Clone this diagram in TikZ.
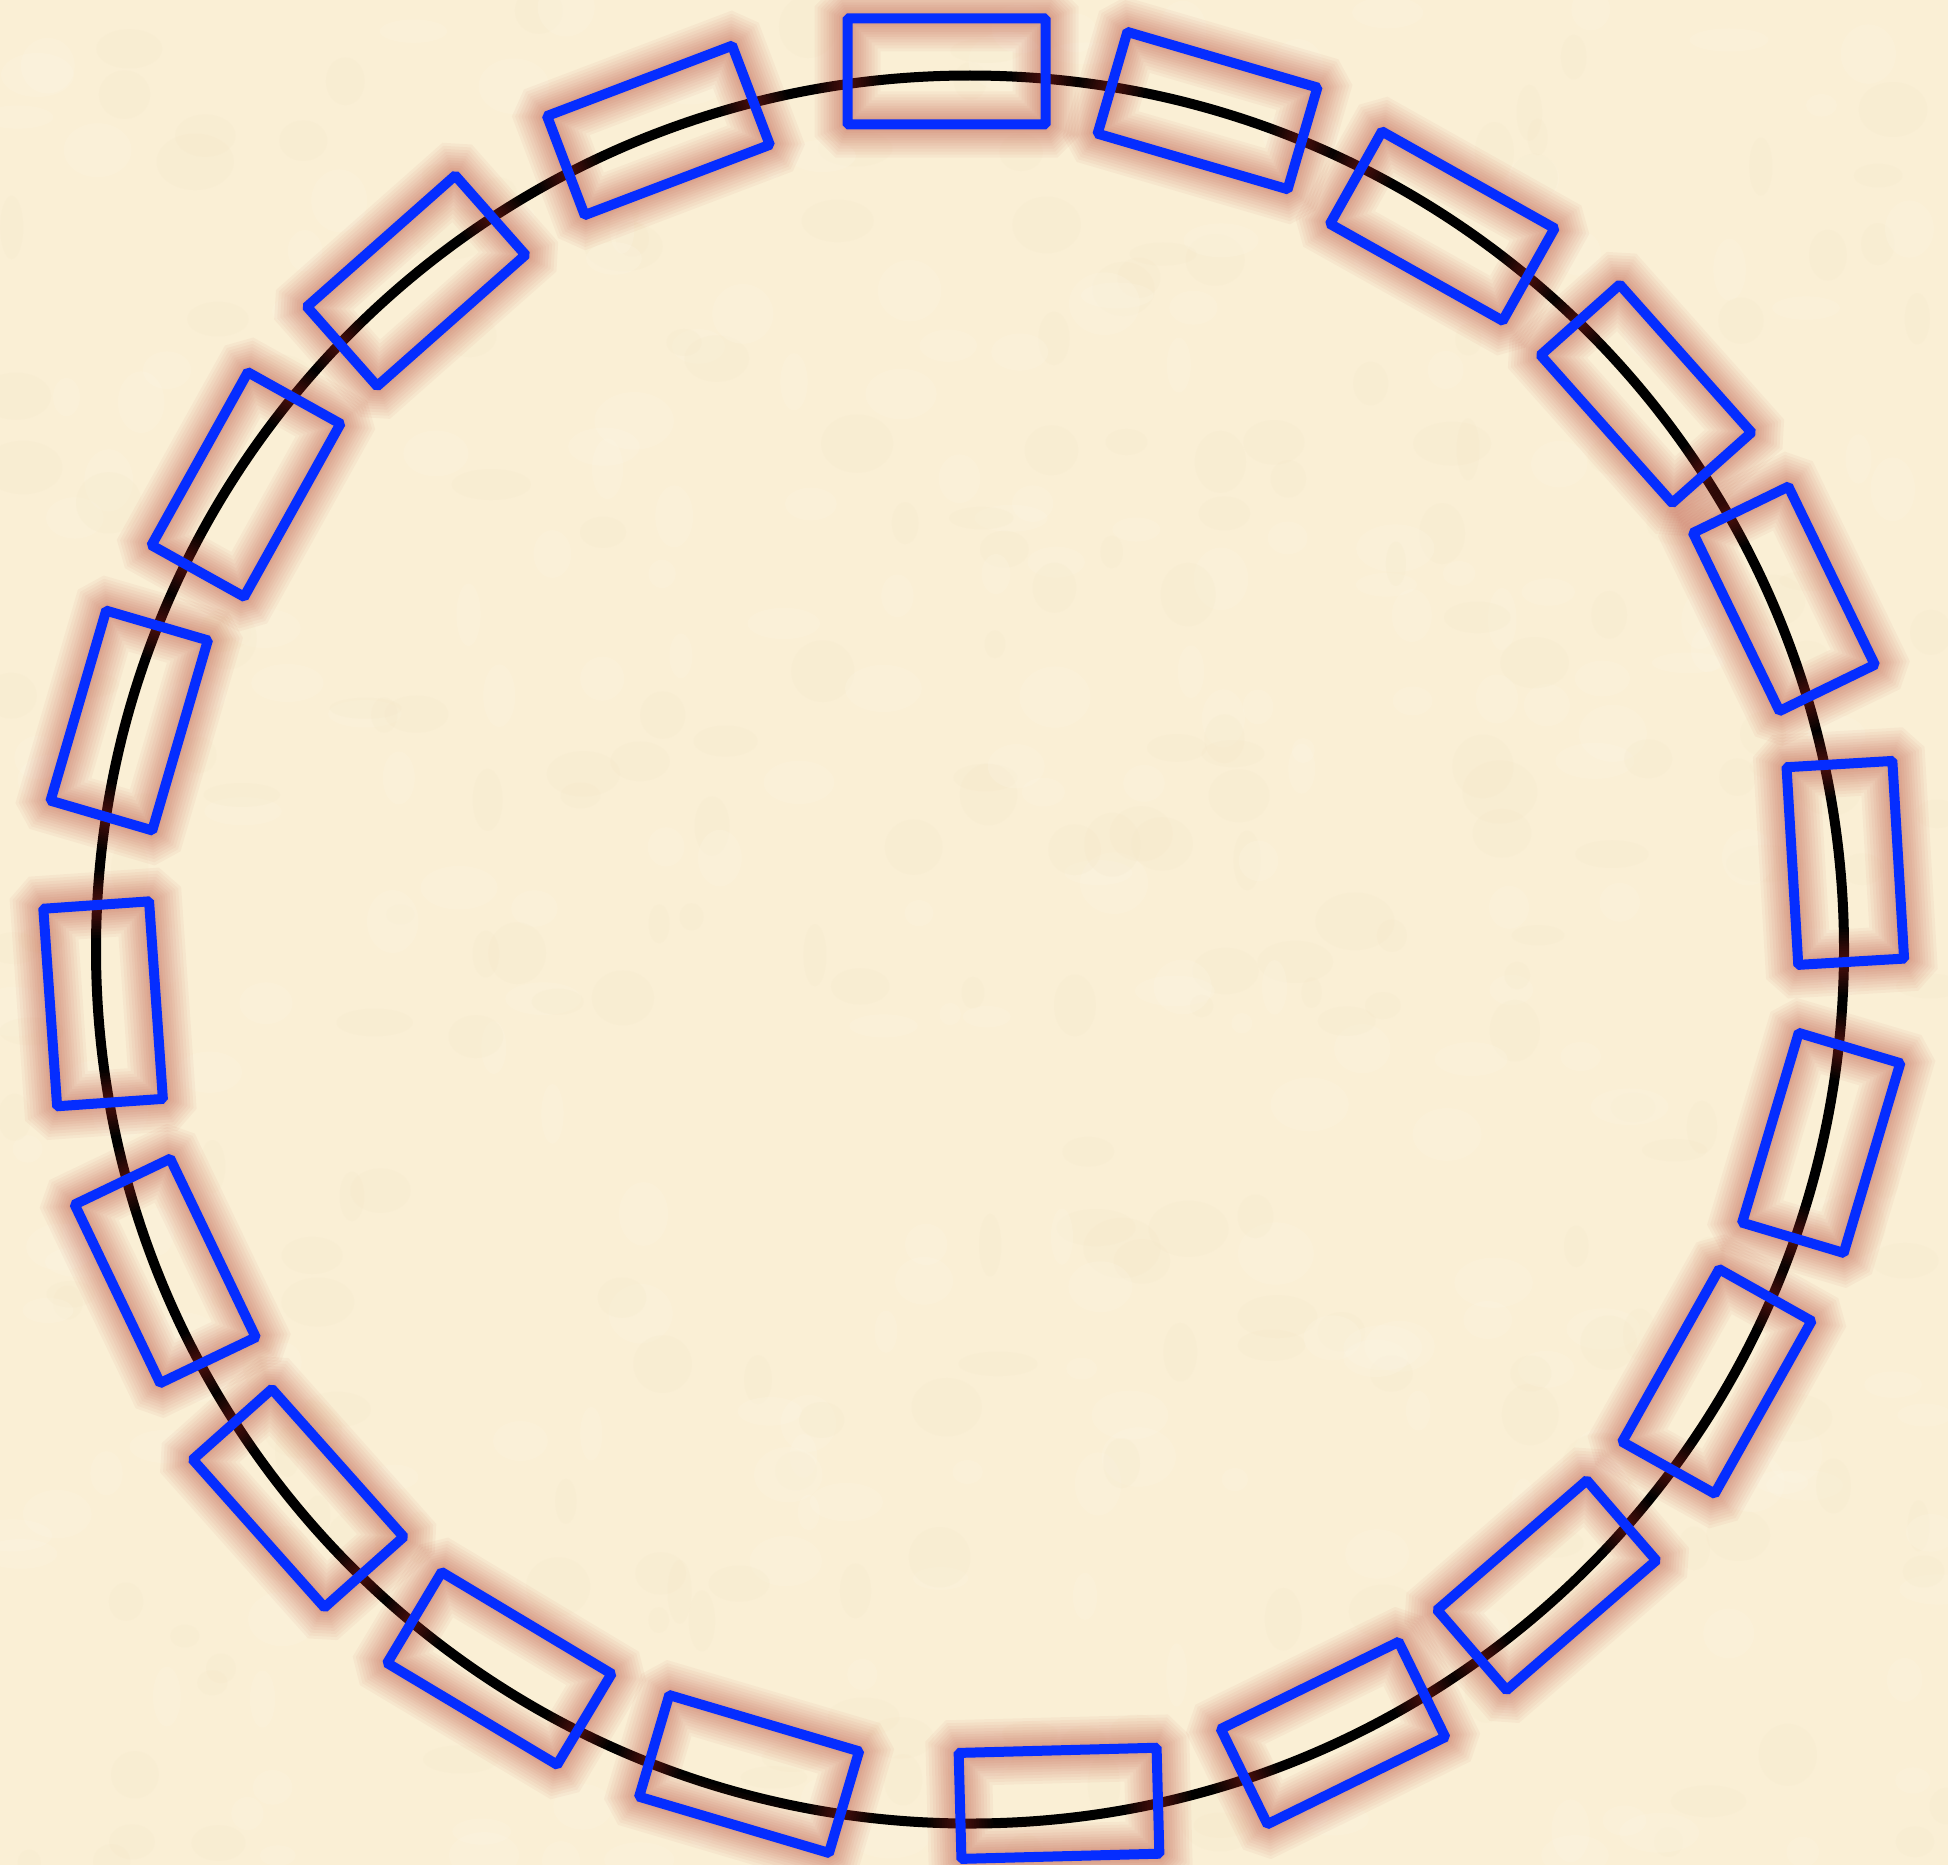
\documentclass[tikz,border=0pt]{standalone}
\definecolor{paper}{RGB}{250,239,213}
\definecolor{paperlight}{RGB}{253,247,232}
\definecolor{paperdark}{RGB}{244,230,199}
\definecolor{rectblue}{RGB}{5,45,255}
\definecolor{glowred}{RGB}{180,50,35}
\tikzset{
  glowlayer/.style={preaction={draw=glowred, draw opacity=0.045, line width=#1}},
  magnet/.style={rectangle, draw=rectblue, line width=10pt, minimum width=198pt,
    minimum height=106pt, inner sep=0pt, rounded corners=1.5pt,
    glowlayer=66pt, glowlayer=60pt, glowlayer=54pt, glowlayer=48pt,
    glowlayer=42pt, glowlayer=37pt, glowlayer=32pt, glowlayer=27pt,
    glowlayer=22pt, glowlayer=17pt, glowlayer=13pt},
  ringstyle/.style={circle, draw=black, line width=10pt, minimum size=1748pt, inner sep=0pt}
}
\begin{document}
\begin{tikzpicture}[x=1pt,y=-1pt]
\fill[paper] (0,0) rectangle (1948,1865);
\useasboundingbox (0,0) rectangle (1948,1865);
\pgfmathsetseed{42}
\foreach \i in {1,...,500}{
  \pgfmathsetmacro{\px}{rnd*1948}
  \pgfmathsetmacro{\py}{rnd*1865}
  \pgfmathsetmacro{\rs}{10+rnd*30}
  \pgfmathsetmacro{\rt}{10+rnd*22}
  \ifodd\i \def\tone{paperlight}\else\def\tone{paperdark}\fi
  \fill[\tone, fill opacity=0.2] (\px,\py) ellipse [x radius=\rs, y radius=\rt];
}
\node[ringstyle] (ring) at (970,949.5) {};
\foreach \n/\x/\y/\a in {
  1/946.5/71.5/0, 2/1207.5/110.6/-16.3, 3/1442.3/226.1/-29.3, 4/1646.0/393.8/-48.3,
  5/1783.9/598.8/-64.1, 6/1845.3/862.9/93.4, 7/1821.2/1142.9/73.4, 8/1716.9/1381.4/60.7,
  9/1546.7/1585.2/40.9, 10/1333.0/1733.0/26.1, 11/1059.0/1803.3/1.5, 12/749.1/1774.0/-16.5,
  13/499.4/1668.4/-30.9, 14/298.2/1498.2/-48.3, 15/165.2/1270.9/-64.4, 16/103.1/1003.8/94,
  17/129.2/720.5/73.7, 18/246.0/484.5/60.9, 19/416.2/280.8/41.5, 20/658.4/130.4/20.8}{
  \node[magnet, rotate=\a] (r\n) at (\x,\y) {};
}
\end{tikzpicture}
\end{document}
